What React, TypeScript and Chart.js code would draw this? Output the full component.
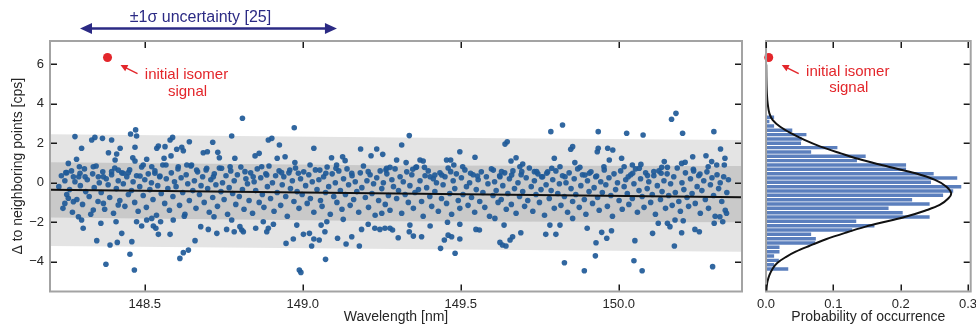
import React, { useEffect, useRef } from 'react';
import { Chart, registerables } from 'chart.js';
Chart.register(...registerables);

const FONT = '"Liberation Sans", Arial, Helvetica, sans-serif';
const TEXT = '#262626';
const NAVY = '#2b2a84';
const RED = '#e3262b';

const wavelengthTicks = [148.5, 149.0, 149.5, 150.0];
const deltaTicks = [-4, -2, 0, 2, 4, 6];
const probTicks = [0, 0.1, 0.2, 0.3];
const wavelengthRange = [148.2, 150.39];
const deltaRange = [-5.52, 7.19];
const probRange = [0, 0.304];

const isomerPoint = [148.382, 6.35];
const isomerProb = [0.004, 6.35];
const sigmaArrow = [148.295, 149.108];

const bandX = [148.2, 149.3, 150.39];
const innerBandTop = [1.04, 0.87, 0.85];
const innerBandBottom = [-1.76, -1.95, -2.01];
const outerBandTop = [2.46, 2.3, 2.17];
const outerBandBottom = [-3.21, -3.36, -3.5];
const trendX = [148.2, 150.39];
const trendY = [-0.36, -0.74];

const upperScatter: number[][] = [
  [148.279,2.34],[148.284,1.19],[148.300,1.75],[148.293,0.81],[148.258,0.98],[148.250,0.51],[148.332,2.17],[148.342,2.30],[148.366,2.25],[148.395,2.17],
  [148.385,1.52],[148.422,1.75],[148.411,1.46],[148.406,1.15],[148.455,2.47],[148.471,2.68],[148.474,2.37],[148.469,1.80],[148.462,1.27],[148.469,1.10],
  [148.506,1.19],[148.538,1.75],[148.543,1.86],[148.564,1.83],[148.561,1.24],[148.580,2.17],[148.588,2.30],[148.583,1.36],[148.601,1.70],[148.617,1.80],
  [148.622,1.62],[148.641,2.08],[148.685,1.52],[148.698,1.57],[148.715,2.05],[148.731,1.54],[148.736,1.27],[148.775,2.37],[148.785,1.24],[148.809,3.27],
  [148.849,1.36],[148.862,1.49],[148.891,2.17],[148.902,2.25],[148.926,1.91],[148.919,1.24],[148.944,1.32],[148.973,2.79],[148.975,1.02],[149.035,1.75],
  [149.091,1.27],[149.107,0.90],[149.126,1.32],[149.134,1.12],[149.183,1.71],[149.216,1.37],[149.234,1.71],[149.253,1.44],
  [149.263,0.64],[149.276,0.78],[149.297,1.15],[149.313,1.91],[149.327,1.02],[149.337,2.39],[149.348,0.68],[149.358,0.78],[149.371,1.15],[149.381,1.10],
  [149.385,0.78],[149.403,0.30],[149.418,0.39],[149.440,0.39],[149.455,1.15],[149.468,1.15],[149.478,0.90],[149.468,0.56],[149.497,1.57],[149.506,0.81],
  [149.531,0.48],[149.545,1.29],[149.553,0.34],[149.603,0.64],[149.629,0.56],[149.624,0.30],[149.640,1.96],[149.647,2.08],[149.659,1.10],[149.675,1.27],
  [149.661,0.39],[149.687,0.81],[149.696,0.95],[149.693,0.56],[149.733,0.56],[149.740,0.56],[149.756,0.30],[149.772,0.48],[149.785,2.59],[149.788,0.73],
  [149.796,1.24],[149.814,0.81],[149.822,2.93],[149.830,0.30],[149.848,1.70],[149.854,1.83],[149.861,1.02],[149.877,0.78],[149.893,0.39],[149.907,0.48],
  [149.932,1.57],[149.935,1.75],[149.935,2.59],[149.930,0.34],[149.953,0.81],[149.965,1.75],[149.970,1.15],[149.981,1.66],[150.009,1.24],[150.017,0.81],
  [150.025,2.51],[150.030,0.30],[150.043,0.90],[150.044,0.48],[150.070,0.93],[150.077,2.42],[150.065,0.73],[150.091,0.36],[150.111,0.56],[150.134,0.48],
  [150.136,0.78],[150.144,1.07],[150.154,0.78],[150.167,3.22],[150.181,3.52],[150.202,2.51],[150.199,0.98],[150.210,1.04],[150.234,1.32],[150.236,0.68],
  [150.257,0.44],[150.276,1.37],[150.283,0.81],[150.294,1.07],[150.301,2.59],[150.310,0.90],[150.322,1.71],[150.336,1.24],[150.334,0.90],
];

const bandEdgeScatter: number[][] = [
  [148.253,0.51],[148.274,0.30],[148.295,0.48],[148.311,0.30],[148.337,0.81],[148.353,0.30],[148.369,0.30],[148.395,0.56],[148.416,0.64],[148.432,0.48],
  [148.448,0.51],[148.485,0.34],[148.495,0.90],[148.522,0.81],[148.532,0.48],[148.548,0.34],[148.567,0.90],[148.606,0.81],[148.633,0.90],[148.648,0.90],
  [148.664,0.64],[148.696,0.73],[148.717,0.30],[148.743,0.73],[148.770,0.81],[148.817,0.56],[148.843,0.30],[148.870,0.81],[148.886,0.39],[148.933,0.51],
  [148.959,0.64],[148.986,0.48],[149.023,0.90],[149.054,0.64],[149.073,0.48],[149.105,0.73],[149.155,0.48],[149.207,0.56],[149.265,0.73],
];

const coreScatter: number[][] = [
  [148.228,-0.2],[148.236,0.35],[148.241,-1.3],[148.247,0.1],[148.253,-0.6],[148.262,-0.35],[148.268,0.6],[148.271,-1.5],[148.279,0.05],[148.285,-0.85],
  [148.291,0.3],[148.296,-0.15],[148.303,-1.1],[148.309,0.7],[148.313,-0.45],[148.318,0.15],[148.324,-0.7],[148.329,-1.6],[148.335,0.45],[148.340,-0.25],
  [148.346,0.85],[148.352,-0.95],[148.356,0.0],[148.362,-0.5],[148.367,0.55],[148.373,-1.35],[148.378,0.2],[148.384,-0.1],[148.389,-0.75],[148.395,0.4],
  [148.401,-1.55],[148.405,0.75],[148.410,-0.3],[148.416,0.1],[148.421,-0.9],[148.427,0.5],[148.432,-0.05],[148.437,-1.2],[148.443,0.3],[148.448,-0.6],
  [148.452,0.65],[148.458,-0.4],[148.463,0.05],[148.468,-1.0],[148.474,0.35],[148.479,-1.45],[148.484,-0.2],[148.490,0.8],[148.495,-0.65],[148.500,0.15],
  [148.505,-1.25],[148.511,0.45],[148.516,-0.35],[148.521,0.0],[148.526,-0.85],[148.532,0.6],[148.537,-1.65],[148.541,-0.15],[148.547,0.3],[148.552,-0.55],
  [148.557,0.9],[148.563,-1.05],[148.568,0.2],[148.573,-0.3],[148.578,-1.4],[148.584,0.5],[148.589,-0.7],[148.594,0.05],[148.599,-0.2],[148.605,0.7],
  [148.610,-1.15],[148.615,0.25],[148.620,-0.5],[148.625,-1.7],[148.631,0.4],[148.636,-0.05],[148.641,-0.9],[148.646,0.85],[148.652,-0.4],[148.657,0.1],
  [148.662,-1.3],[148.667,0.55],[148.673,-0.6],[148.678,-0.15],[148.683,0.3],[148.688,-1.0],[148.694,0.65],[148.699,-0.3],[148.704,-1.5],[148.709,0.15],
  [148.715,-0.75],[148.720,0.45],[148.725,-0.1],[148.730,-1.2],[148.736,0.75],[148.741,-0.45],[148.746,0.0],[148.751,-0.85],[148.757,0.35],[148.762,-1.6],
  [148.767,-0.25],[148.772,0.6],[148.778,-0.55],[148.783,0.1],[148.788,-1.1],[148.793,0.4],[148.799,-0.7],[148.804,0.8],[148.809,-0.35],[148.814,-1.35],
  [148.820,0.2],[148.825,-0.05],[148.830,-0.9],[148.835,0.5],[148.841,-1.55],[148.846,0.05],[148.851,-0.4],[148.856,0.7],[148.862,-1.0],[148.867,0.25],
  [148.872,-0.6],[148.877,-1.25],[148.883,0.45],[148.888,-0.2],[148.893,0.85],[148.898,-0.8],[148.904,0.0],[148.909,-1.45],[148.914,0.35],[148.919,-0.5],
  [148.925,0.6],[148.930,-1.15],[148.935,-0.1],[148.940,0.3],[148.946,-0.7],[148.951,-1.7],[148.956,0.5],[148.961,-0.3],[148.967,0.1],[148.972,-0.95],
  [148.977,0.75],[148.982,-0.45],[148.988,-1.3],[148.993,0.2],[148.998,-0.6],[149.003,0.55],[149.009,-0.15],[149.014,-1.05],[149.019,0.4],[149.024,-0.8],
  [149.030,0.05],[149.035,-1.5],[149.040,0.65],[149.045,-0.35],[149.051,0.15],[149.056,-0.9],[149.061,-1.2],[149.066,0.3],[149.072,-0.5],[149.077,0.8],
  [149.082,-0.2],[149.087,-1.6],[149.093,0.45],[149.098,-0.7],[149.103,0.0],[149.108,-1.0],[149.114,0.6],[149.119,-0.4],[149.124,-1.35],[149.129,0.2],
  [149.135,-0.6],[149.140,0.7],[149.145,-0.1],[149.150,-1.15],[149.156,0.35],[149.161,-0.85],[149.166,0.05],[149.171,-0.45],[149.177,-1.5],[149.182,0.5],
  [149.187,-0.25],[149.192,0.85],[149.198,-0.75],[149.203,0.1],[149.208,-1.25],[149.213,0.4],[149.219,-0.55],[149.224,-0.05],[149.229,-1.65],[149.234,0.25],
  [149.240,-0.9],[149.245,0.6],[149.250,-0.3],[149.255,0.0],[149.261,-1.1],[149.266,0.45],[149.271,-0.65],[149.276,-1.4],[149.282,0.15],[149.287,-0.2],
  [149.292,0.7],[149.297,-0.8],[149.303,-0.4],[149.308,0.3],[149.313,-1.55],[149.318,0.05],[149.324,-0.6],[149.329,0.55],[149.334,-1.0],[149.339,-0.15],
  [149.345,0.4],[149.350,-1.3],[149.355,-0.5],[149.360,0.8],[149.366,-0.35],[149.371,0.1],[149.376,-0.95],[149.381,-1.7],[149.387,0.35],[149.392,-0.25],
  [149.397,0.6],[149.402,-0.7],[149.408,-1.2],[149.413,0.2],[149.418,-0.45],[149.423,0.0],[149.429,-1.45],[149.434,0.5],[149.439,-0.8],[149.444,-0.1],
  [149.450,0.3],[149.455,-1.05],[149.460,0.75],[149.465,-0.55],[149.471,-1.6],[149.476,0.1],[149.481,-0.3],[149.486,0.45],[149.492,-0.9],[149.497,-1.3],
  [149.502,0.25],[149.507,-0.6],[149.513,0.65],[149.518,-0.2],[149.523,-1.15],[149.528,0.0],[149.534,-0.75],[149.539,0.4],[149.544,-1.5],[149.549,-0.35],
  [149.555,0.15],[149.560,-0.95],[149.565,0.55],[149.570,-0.5],[149.576,-1.25],[149.581,0.3],[149.586,-0.05],[149.591,-1.7],[149.597,0.7],[149.602,-0.65],
  [149.607,0.05],[149.612,-0.4],[149.618,-1.0],[149.623,0.35],[149.628,-0.85],[149.633,-0.15],[149.639,0.5],[149.644,-1.35],[149.649,-0.55],[149.654,0.2],
  [149.660,-1.1],[149.665,0.6],[149.670,-0.3],[149.675,-1.55],[149.681,0.0],[149.686,-0.7],[149.691,0.4],[149.696,-0.45],[149.702,-1.2],[149.707,0.25],
  [149.712,-0.9],[149.717,0.75],[149.723,-0.2],[149.728,-1.45],[149.733,0.1],[149.738,-0.6],[149.744,0.45],[149.749,-1.0],[149.754,-0.35],[149.759,0.3],
  [149.765,-1.65],[149.770,-0.1],[149.775,0.55],[149.780,-0.8],[149.786,-0.4],[149.791,0.15],[149.796,-1.3],[149.801,0.6],[149.807,-0.55],[149.812,-0.05],
  [149.817,-1.15],[149.822,0.35],[149.828,-0.7],[149.833,0.0],[149.838,-1.5],[149.843,0.5],[149.849,-0.3],[149.854,-0.95],[149.859,0.2],[149.864,-0.6],
  [149.870,0.7],[149.875,-1.25],[149.880,-0.15],[149.885,0.4],[149.891,-0.85],[149.896,-1.6],[149.901,0.1],[149.906,-0.45],[149.912,0.55],[149.917,-1.05],
  [149.922,-0.25],[149.927,0.3],[149.933,-0.75],[149.938,-1.4],[149.943,0.05],[149.948,-0.5],[149.954,0.65],[149.959,-0.1],[149.964,-1.2],[149.969,0.25],
  [149.975,-0.65],[149.980,-1.7],[149.985,0.45],[149.990,-0.35],[149.996,0.0],[150.001,-0.9],[150.006,0.6],[150.011,-1.35],[150.017,-0.2],[150.022,0.15],
  [150.027,-0.55],[150.032,-1.1],[150.038,0.4],[150.043,-0.8],[150.048,-0.05],[150.053,0.7],[150.059,-1.5],[150.064,-0.4],[150.069,0.2],[150.074,-0.7],
  [150.080,-1.25],[150.085,0.5],[150.090,-0.3],[150.095,0.05],[150.101,-1.0],[150.106,-0.6],[150.111,0.35],[150.116,-1.6],[150.122,-0.15],[150.127,0.6],
  [150.132,-0.85],[150.137,-0.45],[150.143,0.1],[150.148,-1.3],[150.153,0.45],[150.158,-0.65],[150.164,-0.05],[150.169,-1.15],[150.174,0.3],[150.179,-0.5],
  [150.185,0.75],[150.190,-0.95],[150.195,-1.45],[150.200,0.0],[150.206,-0.35],[150.211,0.5],[150.216,-0.75],[150.221,-1.2],[150.227,0.2],[150.232,-0.55],
  [150.237,0.6],[150.242,-1.05],[150.248,-0.2],[150.253,0.35],[150.258,-1.55],[150.263,-0.4],[150.269,0.1],[150.274,-0.85],[150.279,0.55],[150.284,-1.3],
  [150.290,-0.1],[150.295,0.25],[150.300,-0.65],[150.305,-1.7],[150.311,0.4],[150.316,-0.3],[150.321,0.0],[150.326,-0.95],[150.332,0.3],[150.337,-1.4],
  [150.342,-0.5],[150.347,0.15],
];

const lowerScatter: number[][] = [
  [148.247,-1.05],[148.258,-0.79],[148.274,-0.96],[148.290,-1.73],[148.300,-1.89],[148.305,-2.31],[148.348,-2.94],[148.337,-1.39],[148.361,-2.06],[148.369,-1.05],
  [148.377,-4.14],[148.390,-3.16],[148.409,-1.98],[148.413,-3.03],[148.427,-2.57],[148.416,-1.13],[148.453,-3.63],[148.459,-2.99],[148.467,-4.43],[148.474,-1.98],
  [148.490,-2.20],[148.506,-1.89],[148.522,-1.81],[148.527,-2.20],[148.535,-2.31],[148.543,-2.62],[148.550,-1.98],[148.580,-2.62],[148.590,-1.89],[148.611,-3.84],
  [148.622,-3.55],[148.638,-3.42],[148.627,-1.60],[148.659,-2.94],[148.677,-2.23],[148.701,-2.37],[148.719,-1.73],[148.728,-2.57],[148.759,-2.37],[148.775,-1.89],
  [148.783,-2.49],[148.801,-2.23],[148.807,-2.40],[148.812,-2.49],[148.851,-2.31],[148.875,-1.98],[148.886,-2.49],[148.891,-2.31],[148.907,-2.11],[148.947,-3.08],
  [148.970,-2.86],[148.981,-2.15],[148.989,-4.43],[148.994,-4.55],[149.002,-2.62],[149.021,-2.57],[149.028,-3.21],[149.035,-2.86],[149.052,-2.91],[149.058,-2.15],
  [149.070,-2.49],[149.072,-3.89],[149.076,-1.98],[149.110,-2.82],[149.128,-1.86],[149.137,-3.11],[149.155,-2.74],[149.179,-3.21],[149.186,-2.37],[149.207,-2.11],
  [149.228,-2.31],[149.244,-2.37],
  [149.250,-1.55],[149.260,-2.31],[149.276,-2.31],[149.284,-2.40],[149.302,-2.79],[149.339,-2.15],[149.337,-2.49],[149.350,-2.71],[149.376,-2.74],[149.403,-2.20],
  [149.436,-3.33],[149.448,-2.91],[149.460,-2.66],[149.471,-2.74],[149.458,-2.01],[149.482,-3.58],[149.497,-2.86],[149.497,-2.11],[149.548,-2.37],[149.559,-2.40],
  [149.608,-1.81],[149.624,-3.03],[149.632,-3.16],[149.643,-3.21],[149.656,-2.91],[149.664,-2.74],[149.637,-2.15],[149.690,-2.54],[149.769,-2.62],[149.782,-2.15],
  [149.801,-2.62],[149.814,-2.15],[149.828,-4.06],[149.854,-1.81],[149.891,-4.47],[149.900,-2.31],[149.928,-3.05],[149.926,-3.71],[149.946,-2.52],[149.962,-2.82],
  [149.977,-2.44],[150.048,-3.96],[150.051,-2.94],[150.074,-4.47],[150.107,-2.57],[150.125,-2.06],[150.154,-2.06],[150.162,-2.23],[150.176,-3.21],[150.199,-2.54],
  [150.178,-1.89],[150.204,-1.93],[150.241,-2.37],[150.255,-2.49],[150.297,-4.26],[150.302,-2.06],[150.320,-1.73],[150.329,-1.98],[150.341,-1.55],
];

const binCenters = [3.32, 3.10, 2.88, 2.66, 2.44, 2.22, 2.00, 1.78, 1.56, 1.34, 1.12, 0.90, 0.68, 0.46, 0.24, 0.02, -0.20, -0.42,
  -0.64, -0.86, -1.08, -1.30, -1.52, -1.74, -1.96, -2.18, -2.40, -2.62, -2.84, -3.06, -3.28, -3.50, -3.72, -3.94, -4.16, -4.38];
const binProbability = [0.012, 0.005, 0.012, 0.039, 0.060, 0.053, 0.052, 0.106, 0.067, 0.148, 0.135, 0.208, 0.208, 0.249, 0.284, 0.245, 0.290, 0.278,
  0.263, 0.217, 0.243, 0.182, 0.203, 0.243, 0.134, 0.161, 0.128, 0.067, 0.074, 0.073, 0.020, 0.020, 0.012, 0.019, 0.012, 0.033];

const fitValue = [6.0, 5.2, 4.5, 4.0, 3.52, 3.18, 2.84, 2.51, 2.17, 1.83, 1.49, 1.15, 0.81, 0.48, 0.14, -0.20, -0.54, -0.79, -1.13, -1.42,
  -1.73, -1.98, -2.23, -2.54, -2.87, -3.21, -3.50, -3.76, -4.06, -4.35, -4.69, -5.03, -5.28, -5.52];
const fitProb = [0.0003, 0.0006, 0.0013, 0.0025, 0.005, 0.010, 0.021, 0.037, 0.057, 0.081, 0.111, 0.143, 0.182, 0.222, 0.251, 0.268, 0.275, 0.271, 0.258, 0.236,
  0.207, 0.177, 0.148, 0.118, 0.089, 0.064, 0.044, 0.030, 0.017, 0.010, 0.005, 0.002, 0.001, 0.0005];

const font13 = { family: FONT, size: 13 };
const font14 = { family: FONT, size: 14 };

function makeFrame(xT: number[], leftT: number[] | null, rightT: number[]) {
  return {
    id: 'frameTicks',
    afterDatasetsDraw(chart: any) {
      const { ctx, chartArea: a, scales } = chart;
      ctx.save();
      ctx.strokeStyle = '#a3a3a3';
      ctx.lineWidth = 2;
      ctx.strokeRect(a.left, a.top, a.right - a.left, a.bottom - a.top);
      ctx.strokeStyle = '#1a1a1a';
      ctx.lineWidth = 1.5;
      const L = 7;
      ctx.beginPath();
      xT.forEach((v) => {
        const px = Math.round(scales.x.getPixelForValue(v)) + 0.25;
        ctx.moveTo(px, a.top + 1); ctx.lineTo(px, a.top + L);
        ctx.moveTo(px, a.bottom - 1); ctx.lineTo(px, a.bottom - L);
      });
      if (leftT) leftT.forEach((v) => {
        const py = Math.round(scales.y.getPixelForValue(v)) + 0.25;
        ctx.moveTo(a.left + 1, py); ctx.lineTo(a.left + L, py);
      });
      rightT.forEach((v) => {
        const py = Math.round(scales.y.getPixelForValue(v)) + 0.25;
        ctx.moveTo(a.right - 1, py); ctx.lineTo(a.right - L, py);
      });
      ctx.stroke();
      ctx.restore();
    },
  };
}

function arrowHead(ctx: CanvasRenderingContext2D, fx: number, fy: number, tx: number, ty: number, len: number, half: number) {
  const ang = Math.atan2(ty - fy, tx - fx);
  ctx.beginPath();
  ctx.moveTo(tx, ty);
  ctx.lineTo(tx - len * Math.cos(ang) + half * Math.sin(ang), ty - len * Math.sin(ang) - half * Math.cos(ang));
  ctx.lineTo(tx - len * Math.cos(ang) - half * Math.sin(ang), ty - len * Math.sin(ang) + half * Math.cos(ang));
  ctx.closePath();
  ctx.fill();
}

function drawIsomerNote(ctx: CanvasRenderingContext2D, px: number, py: number, dy: number) {
  ctx.save();
  ctx.strokeStyle = RED;
  ctx.fillStyle = RED;
  ctx.lineWidth = 1.5;
  const hx = px + 13, hy = py + 7.5, tx = px + 30, ty = py + 16;
  ctx.beginPath();
  ctx.moveTo(tx, ty);
  ctx.lineTo(hx + 4, hy + 2);
  ctx.stroke();
  arrowHead(ctx, tx, ty, hx, hy, 7, 3.5);
  ctx.font = `15px ${FONT}`;
  ctx.textAlign = 'center';
  ctx.textBaseline = 'middle';
  ctx.fillText('initial isomer', px + 79, py + dy);
  ctx.fillText('signal', px + 80, py + dy + 16.7);
  ctx.restore();
}

const leftNotes = {
  id: 'leftNotes',
  afterDraw(chart: any) {
    const { ctx, scales } = chart;
    const x0 = scales.x.getPixelForValue(sigmaArrow[0]);
    const x1 = scales.x.getPixelForValue(sigmaArrow[1]);
    const yy = 28.5;
    ctx.save();
    ctx.strokeStyle = NAVY;
    ctx.fillStyle = NAVY;
    ctx.lineWidth = 2.5;
    ctx.beginPath();
    ctx.moveTo(x0 + 8, yy);
    ctx.lineTo(x1 - 8, yy);
    ctx.stroke();
    arrowHead(ctx, x1, yy, x0, yy, 12, 5.5);
    arrowHead(ctx, x0, yy, x1, yy, 12, 5.5);
    ctx.font = `16px ${FONT}`;
    ctx.textAlign = 'center';
    ctx.textBaseline = 'middle';
    ctx.fillText('±1σ uncertainty [25]', (x0 + x1) / 2 - 8, 17.5);
    ctx.restore();
    const px = scales.x.getPixelForValue(isomerPoint[0]);
    const py = scales.y.getPixelForValue(isomerPoint[1]);
    drawIsomerNote(ctx, px, py, 17.3);
  },
};

const rightNotes = {
  id: 'rightNotes',
  afterDraw(chart: any) {
    const { ctx, scales } = chart;
    const px = scales.x.getPixelForValue(isomerProb[0]);
    const py = scales.y.getPixelForValue(isomerProb[1]);
    drawIsomerNote(ctx, px, py, 14);
  },
};

const xy = (pts: number[][]) => pts.map(([x, y]) => ({ x, y }));

export default function App() {
  const leftRef = useRef<HTMLCanvasElement>(null);
  const rightRef = useRef<HTMLCanvasElement>(null);

  useEffect(() => {
    const allPoints = xy([...coreScatter, ...bandEdgeScatter, ...upperScatter, ...lowerScatter]);
    const band = (ys: number[]) => bandX.map((x, i) => ({ x, y: ys[i] }));
    const noLine = { borderColor: 'rgba(0,0,0,0)', borderWidth: 0, pointRadius: 0 };

    const left = new Chart(leftRef.current as HTMLCanvasElement, {
      type: 'scatter',
      data: {
        datasets: [
          { type: 'line', label: 'trend', data: trendX.map((x, i) => ({ x, y: trendY[i] })), borderColor: '#111', borderWidth: 2, pointRadius: 0, fill: false, order: 0 } as any,
          { label: 'isomer', data: [{ x: isomerPoint[0], y: isomerPoint[1] }], pointRadius: 4.5, backgroundColor: RED, borderColor: 'rgba(0,0,0,0)', borderWidth: 0, order: 0 },
          { label: 'points', data: allPoints, pointRadius: 2.8, backgroundColor: 'rgba(32,90,152,0.92)', borderColor: 'rgba(0,0,0,0)', borderWidth: 0, order: 1 },
          { type: 'line', label: 'inner', data: band(innerBandTop), fill: '+1', backgroundColor: '#c9c9c9', ...noLine, order: 2 } as any,
          { type: 'line', label: 'innerB', data: band(innerBandBottom), fill: false, ...noLine, order: 2 } as any,
          { type: 'line', label: 'outer', data: band(outerBandTop), fill: '+1', backgroundColor: '#e4e4e4', ...noLine, order: 3 } as any,
          { type: 'line', label: 'outerB', data: band(outerBandBottom), fill: false, ...noLine, order: 3 } as any,
        ],
      },
      options: {
        animation: false,
        responsive: false,
        events: [],
        layout: { padding: { top: 41, right: 10, left: 0, bottom: 0 } },
        plugins: { legend: { display: false }, tooltip: { enabled: false } },
        scales: {
          x: {
            type: 'linear', min: wavelengthRange[0], max: wavelengthRange[1],
            afterBuildTicks: (s: any) => { s.ticks = wavelengthTicks.map((v) => ({ value: v })); },
            afterFit: (s: any) => { s.height = 34.5; },
            ticks: { callback: (v: any) => Number(v).toFixed(1), font: font13, color: TEXT, padding: 5, maxRotation: 0, autoSkip: false },
            grid: { display: false, drawTicks: false },
            border: { display: false },
            title: { display: true, text: 'Wavelength [nm]', font: font14, color: TEXT, padding: 0 },
          },
          y: {
            type: 'linear', min: deltaRange[0], max: deltaRange[1],
            afterBuildTicks: (s: any) => { s.ticks = deltaTicks.map((v) => ({ value: v })); },
            afterFit: (s: any) => { s.width = 50; },
            ticks: { callback: (v: any) => (Number(v) < 0 ? '\u2212' + Math.abs(Number(v)) : String(v)), font: font13, color: TEXT, padding: 6, autoSkip: false },
            grid: { display: false, drawTicks: false },
            border: { display: false },
            title: { display: true, text: 'Δ to neighboring points [cps]', font: font14, color: TEXT, padding: { top: 9.5, bottom: 0 } },
          },
        },
      } as any,
      plugins: [makeFrame(wavelengthTicks, deltaTicks, deltaTicks), leftNotes],
    });

    const right = new Chart(rightRef.current as HTMLCanvasElement, {
      type: 'bar',
      data: {
        datasets: [
          { type: 'line', label: 'fit', data: fitValue.map((v, i) => ({ x: fitProb[i], y: v })), borderColor: '#111', borderWidth: 2, pointRadius: 0, tension: 0.35, fill: false, order: 0, indexAxis: 'y' } as any,
          { type: 'scatter', label: 'isomer', data: [{ x: isomerProb[0], y: isomerProb[1] }], pointRadius: 4.5, backgroundColor: RED, borderColor: 'rgba(0,0,0,0)', borderWidth: 0, order: 0, clip: false } as any,
          { label: 'hist', data: binCenters.map((c, i) => ({ x: binProbability[i], y: c })), backgroundColor: '#5b7fbd', borderWidth: 0, barPercentage: 0.8, categoryPercentage: 1, order: 1 } as any,
        ],
      },
      options: {
        indexAxis: 'y',
        animation: false,
        responsive: false,
        events: [],
        layout: { padding: { top: 41, right: 21.3, left: 12.7, bottom: 0 } },
        plugins: { legend: { display: false }, tooltip: { enabled: false } },
        scales: {
          x: {
            type: 'linear', min: probRange[0], max: probRange[1], offset: false,
            afterBuildTicks: (s: any) => { s.ticks = probTicks.map((v) => ({ value: v })); },
            afterFit: (s: any) => { s.height = 34.5; },
            ticks: { callback: (v: any) => Number(v).toFixed(1), font: font13, color: TEXT, padding: 5, maxRotation: 0, autoSkip: false },
            grid: { display: false, drawTicks: false, offset: false },
            border: { display: false },
            title: { display: true, text: 'Probability of occurrence', font: font14, color: TEXT, padding: 0 },
          },
          y: { type: 'linear', min: deltaRange[0], max: deltaRange[1], display: false, offset: false, grid: { offset: false } },
        },
      } as any,
      plugins: [makeFrame(probTicks, null, deltaTicks), rightNotes],
    });

    return () => { left.destroy(); right.destroy(); };
  }, []);

  return (
    <div style={{ position: 'fixed', left: 0, top: 0, width: 976, height: 326, overflow: 'hidden', background: '#fff' }}>
      <canvas ref={leftRef} width={752} height={326} style={{ position: 'absolute', left: 0, top: 0, width: 752, height: 326 }} />
      <canvas ref={rightRef} width={240} height={326} style={{ position: 'absolute', left: 752, top: 0, width: 240, height: 326 }} />
    </div>
  );
}
